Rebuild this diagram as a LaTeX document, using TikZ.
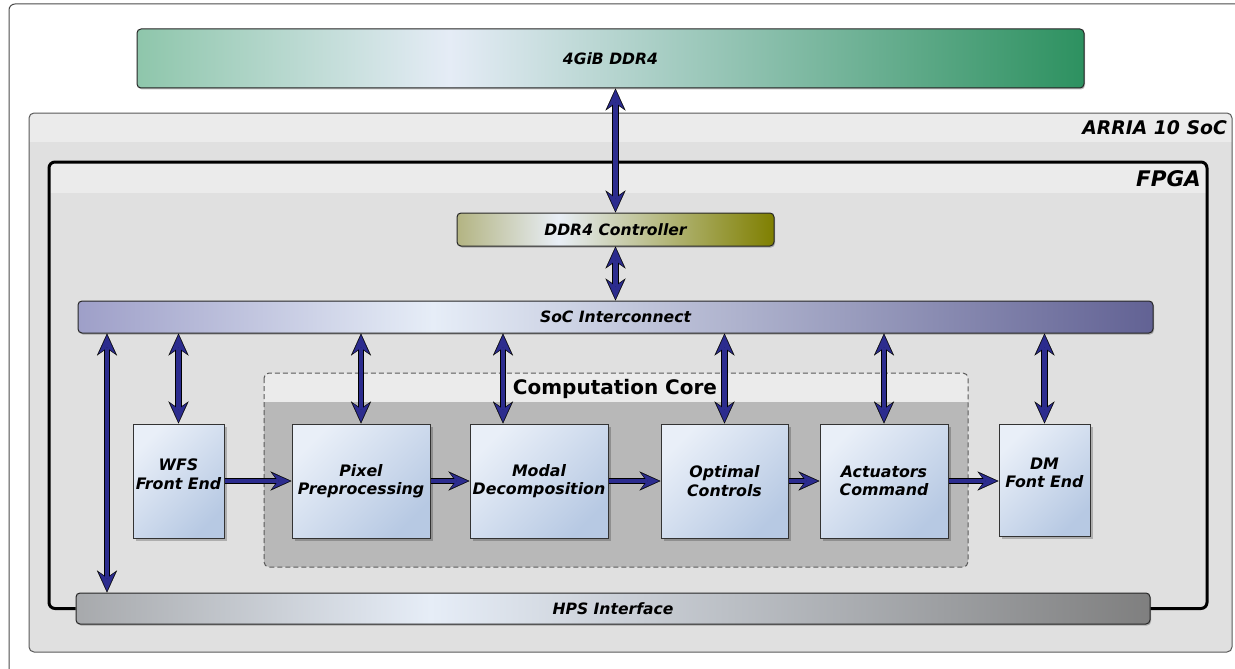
\documentclass[tikz,border=0pt]{standalone}
\usepackage{fontspec}
\newfontfamily\dvs{DejaVu Sans}
\usetikzlibrary{arrows.meta,shadows,calc}
\definecolor{memL}{HTML}{8EC6AB}
\definecolor{memM}{HTML}{E5ECF6}
\definecolor{memR}{HTML}{2D9160}
\definecolor{ctlL}{HTML}{B3B482}
\definecolor{ctlM}{HTML}{E8EEF6}
\definecolor{ctlR}{HTML}{7F7F00}
\definecolor{socL}{HTML}{9E9FC8}
\definecolor{socM}{HTML}{E6EDF7}
\definecolor{socR}{HTML}{626294}
\definecolor{hpsL}{HTML}{A7A9AC}
\definecolor{hpsM}{HTML}{E6EDF7}
\definecolor{hpsR}{HTML}{7F7F7F}
\definecolor{boxL}{HTML}{E9EFF8}
\definecolor{boxD}{HTML}{B7C9E3}
\definecolor{panel}{HTML}{E0E0E0}
\definecolor{panelhead}{HTML}{EBEBEB}
\definecolor{coreBody}{HTML}{B8B8B8}
\definecolor{coreHead}{HTML}{EBEBEB}
\definecolor{arrowblue}{HTML}{2C2C8E}
\pgfdeclarehorizontalshading{memshade}{100bp}{color(0bp)=(memL); color(25bp)=(memL); color(41.5bp)=(memM); color(75bp)=(memR); color(100bp)=(memR)}
\pgfdeclarehorizontalshading{ctlshade}{100bp}{color(0bp)=(ctlL); color(25bp)=(ctlL); color(41bp)=(ctlM); color(75bp)=(ctlR); color(100bp)=(ctlR)}
\pgfdeclarehorizontalshading{socshade}{100bp}{color(0bp)=(socL); color(25bp)=(socL); color(41.5bp)=(socM); color(75bp)=(socR); color(100bp)=(socR)}
\pgfdeclarehorizontalshading{hpsshade}{100bp}{color(0bp)=(hpsL); color(25bp)=(hpsL); color(41.5bp)=(hpsM); color(75bp)=(hpsR); color(100bp)=(hpsR)}
\tikzset{
  bar/.style={shade, rounded corners=4pt, draw=black!85, line width=1pt, inner sep=0pt,
    drop shadow={shadow xshift=1pt, shadow yshift=-1.5pt, fill=black, opacity=0.25},
    font=\dvs\bfseries\itshape\fontsize{15.6}{18}\selectfont},
  blk/.style={draw=black!80, line width=1pt, top color=boxL, bottom color=boxD, shading angle=45,
    drop shadow={shadow xshift=2.5pt, shadow yshift=-2.5pt, fill=black, opacity=0.22},
    inner sep=0pt, align=center, font=\dvs\bfseries\itshape\fontsize{15.8}{18.5}\selectfont},
  blktext/.style={inner sep=0pt, align=center, font=\dvs\bfseries\itshape\fontsize{15.8}{18.5}\selectfont},
  bus/.style={draw=black, line width=6.5pt,
    {Stealth[length=22pt,width=20pt,inset=7pt,line width=0.1pt]}-{Stealth[length=22pt,width=20pt,inset=7pt,line width=0.1pt]},
    postaction={draw=arrowblue, line width=4.5pt, shorten >=1.6pt, shorten <=1.6pt,
    {Stealth[length=18.5pt,width=16.5pt,inset=6pt,line width=0.1pt]}-{Stealth[length=18.5pt,width=16.5pt,inset=6pt,line width=0.1pt]}}},
  flow/.style={draw=black, line width=5.5pt,
    -{Stealth[length=21pt,width=19pt,inset=7pt,line width=0.1pt]},
    postaction={draw=arrowblue, line width=3.5pt, shorten >=1.6pt,
    -{Stealth[length=17.5pt,width=15.5pt,inset=6pt,line width=0.1pt]}}},
}
\begin{document}
\begin{tikzpicture}[x=1pt,y=-1pt]
\useasboundingbox (0,0) rectangle (1235,669);
\begin{scope}
\clip (0,0) rectangle (1235,669);
% outer frame
\draw[rounded corners=6pt, draw=black!70, fill=white, line width=1pt] (9,4) rectangle (1270,700);
% ARRIA 10 SoC panel
\begin{scope}
\clip[rounded corners=5pt] (29,113) rectangle (1232,652);
\fill[panel] (29,113) rectangle (1232,652);
\fill[panelhead] (29,113) rectangle (1232,142);
\end{scope}
\draw[rounded corners=5pt, draw=black!65, line width=1pt] (29,113) rectangle (1232,652);
\node[anchor=base east, inner sep=0pt, font=\dvs\bfseries\itshape\fontsize{18.8}{22}\selectfont] (arria) at (1227,135) {ARRIA 10 SoC};
% FPGA header band
\begin{scope}
\clip[rounded corners=5pt] (49,162) rectangle (1207,609);
\fill[panelhead] (49,162) rectangle (1207,193);
\end{scope}
\node[anchor=base east, inner sep=0pt, font=\dvs\bfseries\itshape\fontsize{21.5}{25}\selectfont] (fpga) at (1201,186) {FPGA};
% Computation core
\begin{scope}
\clip[rounded corners=5pt] (264,373) rectangle (968,567);
\fill[coreBody] (264,373) rectangle (968,567);
\fill[coreHead] (264,373) rectangle (968,402);
\end{scope}
\draw[rounded corners=5pt, draw=black!65, line width=1pt, dash pattern=on 5pt off 3pt] (264,373) rectangle (968,567);
\node[anchor=base, inner sep=0pt, font=\dvs\bfseries\fontsize{20}{23}\selectfont] (core) at (615,394) {Computation Core};
% bars
\node[bar, shading=memshade, minimum width=947pt, minimum height=59pt] (mem) at (610.5,58.5) {4GiB DDR4};
\node[bar, shading=ctlshade, minimum width=317pt, minimum height=33pt] (ctrl) at (615.5,229.5) {DDR4 Controller};
\node[bar, shading=socshade, minimum width=1075pt, minimum height=32pt] (soc) at (615.5,317) {SoC Interconnect};
\node[bar, shading=hpsshade, minimum width=1074pt, minimum height=31pt] (hps) at (613,608.5) {HPS Interface};
% FPGA frame (open at the HPS interface)
\draw[black, line width=3pt, rounded corners=6pt] (hps.west) -- (49,608.5) -- (49,162) -- (1207,162) -- (1207,608.5) -- (hps.east);
% blocks
\node[blk, minimum width=91pt, minimum height=114pt] (wfs) at (178.5,481) {};
\node[blktext] (wfsT) at ([yshift=7pt]wfs.center) {WFS\\Front End};
\node[blk, minimum width=138pt, minimum height=114pt] (pix) at (361,481) {Pixel\\Preprocessing};
\node[blk, minimum width=138pt, minimum height=114pt] (mod) at (539,481) {Modal\\Decomposition};
\node[blk, minimum width=127pt, minimum height=114pt] (opt) at (724.5,481) {Optimal\\Controls};
\node[blk, minimum width=128pt, minimum height=114pt] (act) at (884,481) {Actuators\\Command};
\node[blk, minimum width=91pt, minimum height=112pt] (dm) at (1044.5,480) {};
\node[blktext] (dmT) at ([yshift=7pt]dm.center) {DM\\Font End};
% connectors
\coordinate (lb) at (107,450);
\coordinate (mb) at (503,450);
\draw[bus] (mem.south -| ctrl.north) -- (ctrl.north);
\draw[bus] (ctrl.south) -- (soc.north -| ctrl.south);
\draw[bus] (lb |- soc.south) -- (lb |- hps.north);
\draw[bus] (soc.south -| wfs.north) -- (wfs.north);
\draw[bus] (soc.south -| pix.north) -- (pix.north);
\draw[bus] (mb |- soc.south) -- (mb |- mod.north);
\draw[bus] (soc.south -| opt.north) -- (opt.north);
\draw[bus] (soc.south -| act.north) -- (act.north);
\draw[bus] (soc.south -| dm.north) -- (dm.north);
\draw[flow] (wfs.east) -- (pix.west);
\draw[flow] (pix.east) -- (mod.west);
\draw[flow] (mod.east) -- (opt.west);
\draw[flow] (opt.east) -- (act.west);
\draw[flow] (act.east) -- (act.east -| dm.west);
\end{scope}
\end{tikzpicture}
\end{document}
